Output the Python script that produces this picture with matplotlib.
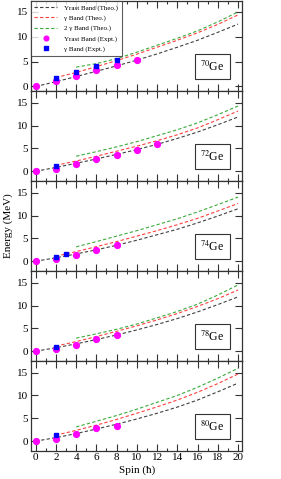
import matplotlib
matplotlib.use('Agg')
import matplotlib.pyplot as plt
import matplotlib.ticker as mtick

plt.rcParams['font.family'] = ['Liberation Serif', 'DejaVu Serif']
plt.rcParams['mathtext.fontset'] = 'stix'

nuclei = ['70', '72', '74', '78', '80']

# theory spins
spin_yrast = [0, 2, 4, 6, 8, 10, 12, 14, 16, 18, 20]
spin_gamma = [2, 4, 6, 8, 10, 12, 14, 16, 18, 20]
spin_2gamma = [4, 6, 8, 10, 12, 14, 16, 18, 20]

yrast_theo = [
    [0, 0.95, 2.0, 3.05, 4.15, 5.3, 6.55, 7.9, 9.3, 10.9, 12.55],
    [0, 0.85, 1.75, 2.7, 3.7, 4.75, 5.9, 7.2, 8.6, 10.2, 11.9],
    [0, 0.75, 1.6, 2.5, 3.5, 4.6, 5.8, 7.0, 8.4, 9.9, 11.5],
    [0, 0.75, 1.6, 2.55, 3.55, 4.65, 5.85, 7.15, 8.6, 10.2, 11.9],
    [0, 0.75, 1.65, 2.65, 3.7, 4.85, 6.1, 7.45, 9.0, 10.8, 12.7],
]
gamma_theo = [
    [1.8, 2.8, 4.0, 5.2, 6.5, 7.9, 9.3, 10.8, 12.5, 14.4],
    [1.3, 2.25, 3.3, 4.4, 5.5, 6.7, 8.0, 9.5, 11.3, 13.2],
    [1.1, 2.1, 3.2, 4.3, 5.5, 6.7, 8.0, 9.4, 11.0, 12.65],
    [1.1, 2.1, 3.2, 4.35, 5.55, 6.85, 8.25, 9.8, 11.5, 13.4],
    [1.3, 2.35, 3.5, 4.75, 6.1, 7.5, 9.0, 10.7, 12.6, 14.7],
]
gamma2_theo = [
    [3.9, 4.6, 5.6, 6.9, 8.3, 9.7, 11.2, 13.0, 15.0],
    [3.3, 4.3, 5.35, 6.5, 7.8, 9.1, 10.6, 12.4, 14.3],
    [3.15, 4.3, 5.5, 6.7, 8.0, 9.3, 10.8, 12.4, 14.05],
    [2.85, 3.8, 4.8, 5.95, 7.3, 8.7, 10.3, 12.3, 14.5],
    [3.1, 4.35, 5.6, 7.0, 8.5, 10.0, 11.8, 13.8, 15.95],
]

# experiment
yrast_expt_spin = [
    [0, 2, 4, 6, 8, 10],
    [0, 2, 4, 6, 8, 10, 12],
    [0, 2, 4, 6, 8],
    [0, 2, 4, 6, 8],
    [0, 2, 4, 6, 8],
]
yrast_expt = [
    [0, 1.06, 2.19, 3.32, 4.25, 5.24],
    [0, 0.59, 1.61, 2.63, 3.66, 4.75, 6.07],
    [0, 0.45, 1.32, 2.41, 3.58],
    [0, 0.4, 1.3, 2.56, 3.58],
    [0, 0.44, 1.54, 2.78, 3.29],
]
gamma_expt_spin = [[2, 4, 6, 8], [2], [2, 3], [2], [2]]
gamma_expt = [
    [1.73, 2.85, 4.05, 5.31],
    [1.24],
    [0.95, 1.54],
    [1.02],
    [1.39],
]

ylims = [(-0.9, 17.2), (-2.1, 17.6), (-2.1, 17.6), (-2.1, 17.6), (-2.1, 17.6)]

fig = plt.figure(figsize=(2.81, 4.79), dpi=100)
left, width = 31 / 281, 211.3 / 281
top_px, h_px = 1.0, 89.94

dash = (0, (3, 2))
axes = []
for i in range(5):
    y0 = 1 - (top_px + (i + 1) * h_px) / 479
    ax = fig.add_axes([left, y0, width, h_px / 479])
    axes.append(ax)

    l1, = ax.plot(spin_yrast, yrast_theo[i], color='#404040', ls=dash, lw=0.8,
                  label='Yrast Band (Theo.)')
    l2, = ax.plot(spin_gamma, gamma_theo[i], color='#ff4040', ls=dash, lw=0.8,
                  label='\u03b3 Band (Theo.)')
    l3, = ax.plot(spin_2gamma, gamma2_theo[i], color='#3caa3c', ls=dash, lw=0.8,
                  label='2 \u03b3 Band (Theo.)')
    m1, = ax.plot(yrast_expt_spin[i], yrast_expt[i], 'o', color='magenta', ms=4.2,
                  mec='magenta', label='Yrast Band (Expt.)')
    m2, = ax.plot(gamma_expt_spin[i], gamma_expt[i], 's', color='blue', ms=3.4,
                  mec='blue', label='\u03b3 Band (Expt.)')

    ax.set_xlim(-0.46, 20.42)
    ax.set_ylim(*ylims[i])
    ax.xaxis.set_major_locator(mtick.MultipleLocator(2))
    ax.xaxis.set_minor_locator(mtick.MultipleLocator(1))
    ax.yaxis.set_major_locator(mtick.MultipleLocator(5))
    ax.tick_params(which='both', direction='in', top=True, right=True,
                   labelsize=8, color='#333333', width=0.8, pad=2)
    ax.tick_params(which='major', length=5)
    ax.tick_params(which='minor', length=2.5)
    for s in ax.spines.values():
        s.set_linewidth(0.9)
        s.set_color('#333333')
    if i < 4:
        ax.tick_params(labelbottom=False)

    ax.text(0.858, 0.27, r'$^{%s}$Ge' % nuclei[i], transform=ax.transAxes,
            ha='center', va='center', fontsize=8.5,
            bbox=dict(boxstyle='square,pad=0.45', fc='white', ec='#333333', lw=0.8))

    if i == 0:
        leg = ax.legend(handles=[l1, l2, l3, m1, m2], loc='upper left',
                        bbox_to_anchor=(0, 1), fontsize=5, frameon=True,
                        fancybox=False, edgecolor='#333333', borderaxespad=0,
                        handlelength=3.2, handletextpad=1.1, labelspacing=0.6,
                        borderpad=0.5, numpoints=1, markerscale=0.8)
        leg.get_frame().set_linewidth(0.8)

axes[-1].set_xlabel('Spin (\u0127)', fontsize=8, labelpad=2)
fig.text(0.03, 0.53, 'Energy (MeV)', rotation=90, ha='center', va='center', fontsize=8)

fig.savefig('out.png', dpi=100)
